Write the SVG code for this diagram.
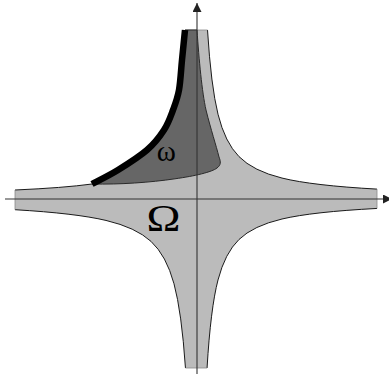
<svg xmlns="http://www.w3.org/2000/svg" width="389" height="374" viewBox="0 0 389 374">
<defs>
<marker id="arr" viewBox="0 0 10 10" refX="10" refY="5" markerWidth="9" markerHeight="9" markerUnits="userSpaceOnUse" orient="auto">
<path d="M0,0 L10,5 L0,10 Z" fill="#222"/>
</marker>
</defs>
<style>
.omega{fill:#bbbbbb;stroke:none}
.edge{fill:none;stroke:#1a1a1a;stroke-width:1}
.end{fill:none;stroke:#888;stroke-width:0.8}
.small{fill:#666666;stroke:#2a2a2a;stroke-width:1}
.axis{fill:none;stroke:#333;stroke-width:1.1}
.bold{fill:none;stroke:#000;stroke-width:6.5;stroke-linecap:butt}
.lbl{font-family:"Liberation Serif","Times New Roman",serif;fill:#000}
</style>
<g id="big-region">
<path class="omega" d="M185,30 L207.5,30 Q211,86 218,114.24 Q225,142.5 239,156.62 Q253.2,171 282,178.06 Q312.5,185.57 377,189.11 L377,208.44 Q312.5,211.83 282,219 Q253.2,225.77 239,239.48 Q225,252.97 218,279.95 Q210.6,308.47 207.06,368 L185.46,368 Q181.63,311.91 174,283.78 Q166.33,255.52 151,241.39 Q135.89,227.47 106,220.43 Q75.67,213.29 15,209.71 L15,190 Q63.8,187.85 92,184 C96.3,181.7 108.8,175.7 118,170 C127.2,164.3 139.3,156.7 147,150 C154.7,143.3 159.7,136.7 164,130 C168.3,123.3 170.5,116.7 173,110 C175.5,103.3 177.5,98.3 179,90 C180.5,81.7 181,70 182,60 C183,50 184.5,35 185,30 Z"/>
<path class="edge" d="M207.5,30 Q211,86 218,114.24 Q225,142.5 239,156.62 Q253.2,171 282,178.06 Q312.5,185.57 377,189.11"/>
<path class="edge" d="M377,208.44 Q312.5,211.83 282,219 Q253.2,225.77 239,239.48 Q225,252.97 218,279.95 Q210.6,308.47 207.06,368"/>
<path class="edge" d="M185.46,368 Q181.63,311.91 174,283.78 Q166.33,255.52 151,241.39 Q135.89,227.47 106,220.43 Q75.67,213.29 15,209.71"/>
<path class="edge" d="M15,190 Q63.8,187.85 92,184"/>
<path class="end" d="M377,189.11 L377,208.44 M15,190 L15,209.71 M185.46,368 L207.06,368 M185,30 L207.5,30"/>
</g>
<g id="small-region">
<path class="small" d="M185,30 C184.5,35 183,50 182,60 C181,70 180.5,81.7 179,90 C177.5,98.3 175.5,103.3 173,110 C170.5,116.7 168.3,123.3 164,130 C159.7,136.7 154.7,143.3 147,150 C139.3,156.7 127.2,164.3 118,170 C108.8,175.7 96.3,181.7 92,184 C120,184.6 150,182.5 175,178.8 C195,176 212,172 217,168 C221,165 221,162 219,157 C216,145 211,130 206,110 C202,92 199,60 197,30 Z"/>
</g>
<g id="axes">
<line class="axis" x1="197" y1="374" x2="197" y2="3" marker-end="url(#arr)"/>
<line class="axis" x1="5" y1="199" x2="392" y2="199" marker-end="url(#arr)"/>
</g>
<g id="boundary">
<path class="bold" d="M185,30 C184.5,35 183,50 182,60 C181,70 180.5,81.7 179,90 C177.5,98.3 175.5,103.3 173,110 C170.5,116.7 168.3,123.3 164,130 C159.7,136.7 154.7,143.3 147,150 C139.3,156.7 127.2,164.3 118,170 C108.8,175.7 96.3,181.7 92,184"/>
</g>
<g id="labels">
<text class="lbl" x="166.2" y="160.7" font-size="29" text-anchor="middle">ω</text>
<text class="lbl" x="146.5" y="231" font-size="37" textLength="34" lengthAdjust="spacingAndGlyphs">Ω</text>
</g>
</svg>
